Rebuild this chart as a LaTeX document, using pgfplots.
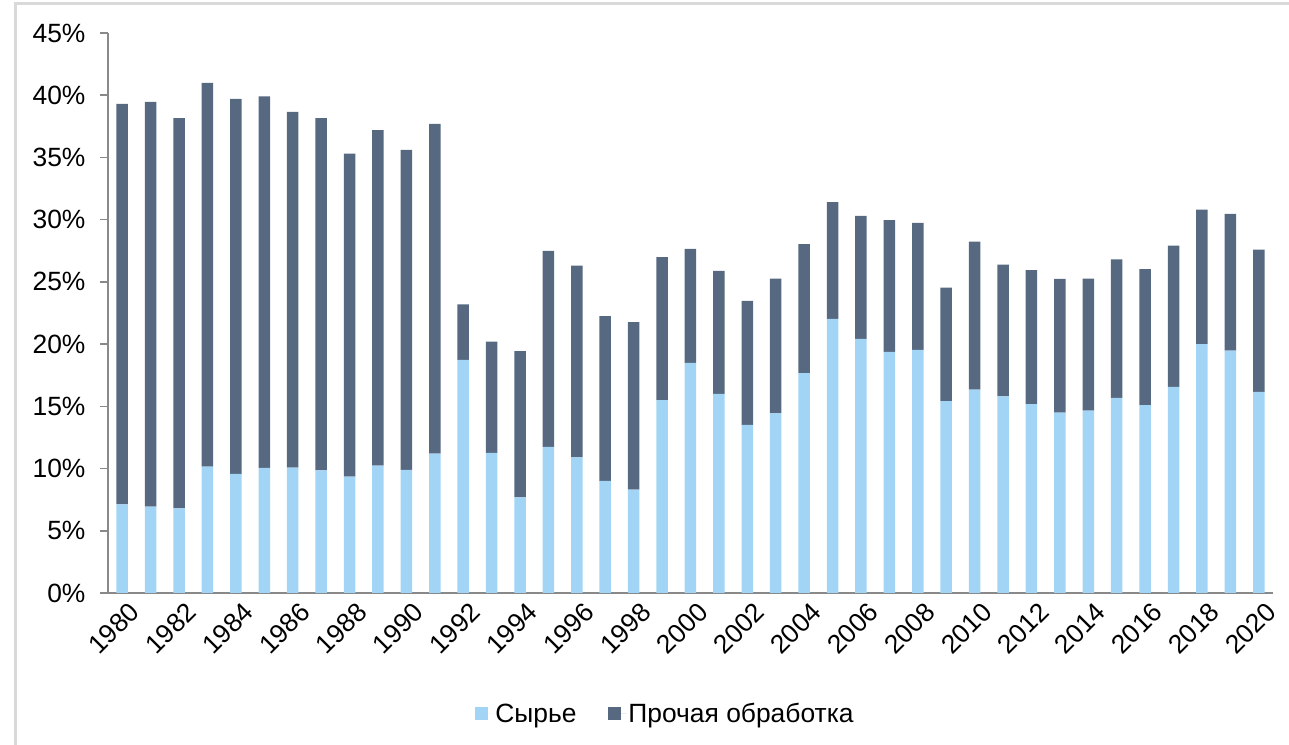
\documentclass[border=0pt]{standalone}
\usepackage{pgfplots}
\pgfplotsset{compat=1.18}
\usepackage{pgfplotstable}
\usepackage{fontspec}
\setmainfont{Liberation Sans}
\definecolor{rawc}{RGB}{161,212,245}
\definecolor{othc}{RGB}{86,105,128}
\definecolor{axc}{RGB}{137,137,137}
\definecolor{framec}{RGB}{217,217,217}

\pgfplotstableread{
x year raw other
0 1980 7.13 32.17
1 1981 6.94 32.53
2 1982 6.80 31.35
3 1983 10.15 30.85
4 1984 9.57 30.13
5 1985 10.05 29.85
6 1986 10.07 28.60
7 1987 9.86 28.29
8 1988 9.35 25.95
9 1989 10.23 26.97
10 1990 9.89 25.71
11 1991 11.20 26.50
12 1992 18.73 4.47
13 1993 11.25 8.95
14 1994 7.69 11.74
15 1995 11.74 15.76
16 1996 10.90 15.40
17 1997 9.00 13.24
18 1998 8.30 13.46
19 1999 15.50 11.48
20 2000 18.49 9.16
21 2001 16.00 9.88
22 2002 13.50 9.97
23 2003 14.44 10.83
24 2004 17.66 10.37
25 2005 22.03 9.37
26 2006 20.42 9.88
27 2007 19.37 10.59
28 2008 19.53 10.21
29 2009 15.41 9.13
30 2010 16.34 11.90
31 2011 15.81 10.58
32 2012 15.17 10.77
33 2013 14.50 10.74
34 2014 14.66 10.61
35 2015 15.68 11.12
36 2016 15.09 10.93
37 2017 16.56 11.36
38 2018 19.99 10.82
39 2019 19.48 10.99
40 2020 16.16 11.44
}\datatable

\begin{document}
\begin{tikzpicture}
\useasboundingbox (0bp,0bp) rectangle (1289bp,745bp);
\draw[framec, line width=3bp] (15bp,0bp) -- (15bp,741.5bp) -- (1289bp,741.5bp);
\begin{axis}[
  at={(108bp,152bp)}, anchor=south west,
  scale only axis, width=1165bp, height=560bp,
  ybar stacked, bar width=11.5bp,
  xmin=-0.5, xmax=40.5, ymin=0, ymax=45,
  axis x line*=bottom, axis y line*=left,
  axis line style={axc, line width=1.5bp},
  every tick/.style={axc, line width=1.5bp},
  tick align=outside,
  ytick={0,5,...,45},
  yticklabel={\pgfmathprintnumber{\tick}\%},
  major tick length=8bp,
  xtick={0,2,...,40},
  xticklabels={1980,1982,1984,1986,1988,1990,1992,1994,1996,1998,2000,2002,2004,2006,2008,2010,2012,2014,2016,2018,2020},
  x tick style={draw=none},
  minor xtick={-0.5,0.5,...,40.5},
  minor x tick style={axc, line width=1.5bp},
  minor tick length=8bp,
  /pgf/number format/assume math mode=true,
  ticklabel style={font=\fontsize{26.5}{31}\selectfont, text=black},
  yticklabel style={xshift=-11bp},
  xticklabel style={xshift=15bp, yshift=-4bp, rotate=45, anchor=east},
  legend style={at={(0.4785,-0.216)}, anchor=center, draw=none, fill=none,
    legend columns=2, font=\fontsize{26.5}{31}\selectfont,
    /tikz/every even column/.append style={column sep=30bp}},
  legend cell align=left,
]
\addplot[fill=rawc, draw=none, legend image code/.code={\fill[rawc] (0bp,-6.5bp) rectangle (13bp,6.5bp); \path (0bp,0bp) -- (18bp,0bp);}] table[x=x, y=raw] {\datatable};
\addplot[fill=othc, draw=none, legend image code/.code={\fill[othc] (0bp,-6.5bp) rectangle (13bp,6.5bp); \path (0bp,0bp) -- (18bp,0bp);}] table[x=x, y=other] {\datatable};
\legend{Сырье, Прочая обработка}
\end{axis}
\end{tikzpicture}
\end{document}
